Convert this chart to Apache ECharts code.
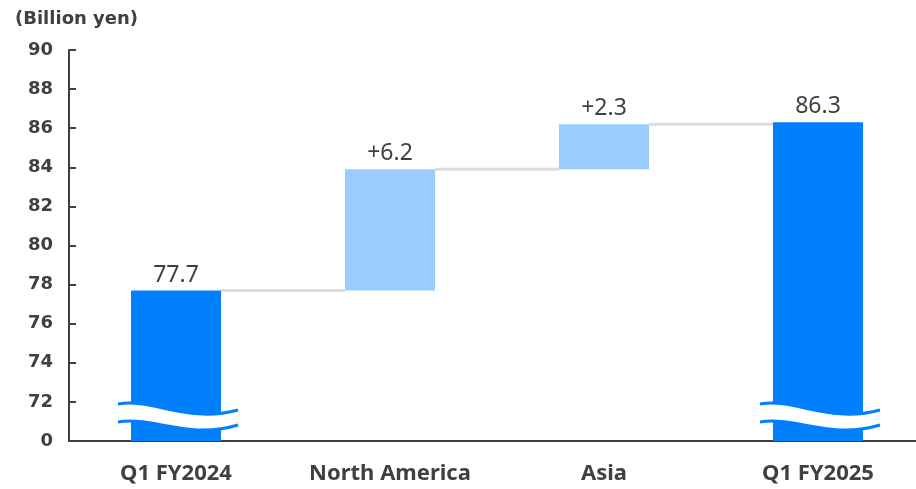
<!DOCTYPE html>
<html>
<head>
<meta charset="utf-8">
<script src="https://cdn.jsdelivr.net/npm/echarts@6/dist/echarts.min.js"></script>
<style>
  html, body { margin: 0; padding: 0; background: #fff; }
  #chart { width: 916px; height: 489px; }
</style>
</head>
<body>
<div id="chart"></div>
<script>
// Net sales bridge, Q1 FY2024 -> Q1 FY2025 (billion yen)
const categories = ['Q1 FY2024', 'North America', 'Asia', 'Q1 FY2025'];
const amounts = [77.7, 6.2, 2.3, 86.3];
const isTotal = [true, false, false, true];
const valueLabels = ['77.7', '+6.2', '+2.3', '86.3'];

// Broken value axis: the bottom tick stands for 0
const axisMin = 70;
const axisMax = 90;
const axisStep = 2;
const axisBreakLabel = '0';

const TOTAL_COLOR = '#0080ff';
const DELTA_COLOR = '#99ccff';
const BAR_WIDTH = 90;

// Floating bases and running levels for the waterfall
const bases = [];
const levels = [];
let running = 0;
amounts.forEach(function (v, i) {
  if (isTotal[i]) {
    bases.push('-');
    running = i === 0 ? v : running;
  } else {
    bases.push(+running.toFixed(1));
    running = +(running + v).toFixed(1);
  }
  levels.push(running);
});

const visible = amounts.map(function (v, i) {
  return { value: v, itemStyle: { color: isTotal[i] ? TOTAL_COLOR : DELTA_COLOR } };
});

// Connector segments between neighbouring bars
const connectors = [];
for (let i = 0; i < categories.length - 1; i++) {
  connectors.push([i, levels[i]]);
}

// Axis-break marks on the total bars
const breakData = [];
isTotal.forEach(function (t, i) { if (t) breakData.push([i, axisMin]); });

const chart = echarts.init(document.getElementById('chart'), null, { renderer: 'canvas' });

chart.setOption({
  animation: false,
  backgroundColor: '#ffffff',
  title: {
    text: '(Billion yen)',
    left: 10,
    top: 5,
    textStyle: { fontFamily: 'DejaVu Sans', fontWeight: 'bold', fontSize: 18, color: '#404040' }
  },
  grid: {
    left: 69, right: -9, top: 50, bottom: 48,
    containLabel: false,
    outerBoundsMode: 'none'
  },
  xAxis: {
    type: 'category',
    data: categories,
    axisLine: { lineStyle: { color: '#404040', width: 2 } },
    axisTick: { show: false },
    axisLabel: {
      margin: 22,
      fontFamily: 'Noto Sans',
      fontWeight: 'bold',
      fontSize: 22,
      color: '#404040'
    }
  },
  yAxis: {
    type: 'value',
    min: axisMin,
    max: axisMax,
    interval: axisStep,
    splitLine: { show: false },
    axisLine: { show: true, lineStyle: { color: '#404040', width: 2 } },
    axisTick: { show: true, inside: true, length: 7, lineStyle: { color: '#404040', width: 2 } },
    axisLabel: {
      margin: 16,
      fontFamily: 'DejaVu Sans',
      fontWeight: 'bold',
      fontSize: 18,
      color: '#404040',
      formatter: function (v) { return v === axisMin ? axisBreakLabel : String(v); }
    }
  },
  series: [
    {
      type: 'custom',
      name: 'connector',
      z: 1,
      data: connectors,
      renderItem: function (params, api) {
        const idx = api.value(0);
        const lvl = api.value(1);
        const a = api.coord([idx, lvl]);
        const b = api.coord([idx + 1, lvl]);
        return {
          type: 'line',
          shape: { x1: a[0] + BAR_WIDTH / 2, y1: a[1], x2: b[0] - BAR_WIDTH / 2, y2: b[1] },
          style: { stroke: '#dcdcdc', lineWidth: 3 }
        };
      }
    },
    {
      type: 'bar',
      name: 'base',
      stack: 'bridge',
      barWidth: BAR_WIDTH,
      z: 2,
      itemStyle: { color: 'rgba(0,0,0,0)' },
      emphasis: { disabled: true },
      data: bases
    },
    {
      type: 'bar',
      name: 'amount',
      stack: 'bridge',
      barWidth: BAR_WIDTH,
      z: 2,
      data: visible,
      label: {
        show: true,
        position: 'top',
        distance: 4,
        fontFamily: 'Noto Sans',
        fontSize: 23,
        color: '#404040',
        formatter: function (p) { return valueLabels[p.dataIndex]; }
      }
    },
    {
      type: 'custom',
      name: 'break',
      z: 5,
      clip: false,
      data: breakData,
      renderItem: function (params, api) {
        const c = api.coord([api.value(0), api.value(1)]);
        const x = c[0], yb = c[1];
        const L = x - 58, R = x + 62;
        const top = 'M ' + L + ' ' + (yb - 37) +
          ' C ' + (L + 35) + ' ' + (yb - 43) + ' ' + (R - 50) + ' ' + (yb - 17) + ' ' + R + ' ' + (yb - 31);
        const bot = 'M ' + L + ' ' + (yb - 19) +
          ' C ' + (L + 35) + ' ' + (yb - 25) + ' ' + (R - 50) + ' ' + (yb - 1) + ' ' + R + ' ' + (yb - 16);
        const band = top +
          ' L ' + R + ' ' + (yb - 16) +
          ' C ' + (R - 50) + ' ' + (yb - 1) + ' ' + (L + 35) + ' ' + (yb - 25) + ' ' + L + ' ' + (yb - 19) + ' Z';
        return {
          type: 'group',
          children: [
            { type: 'path', shape: { pathData: band }, style: { fill: '#ffffff', stroke: null } },
            { type: 'path', shape: { pathData: top }, style: { fill: null, stroke: TOTAL_COLOR, lineWidth: 3 } },
            { type: 'path', shape: { pathData: bot }, style: { fill: null, stroke: TOTAL_COLOR, lineWidth: 3 } }
          ]
        };
      }
    }
  ]
});
</script>
</body>
</html>
